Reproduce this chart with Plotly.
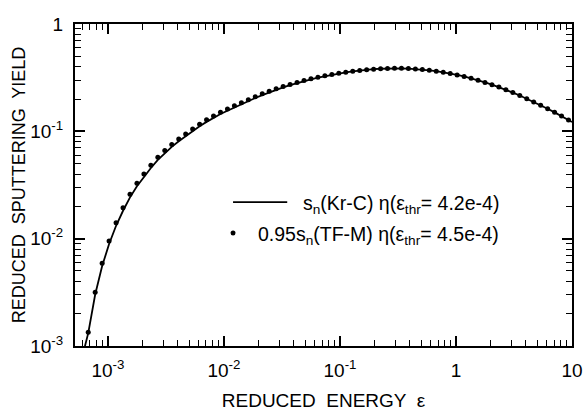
import plotly.graph_objects as go

# ---- data ----
eps_dots = [6.761e-4, 7.762e-4, 8.913e-4, 1.023e-3, 1.175e-3, 1.349e-3, 1.549e-3, 1.778e-3,
            2.042e-3, 2.344e-3, 2.692e-3, 3.090e-3, 3.548e-3, 4.074e-3, 4.677e-3, 5.370e-3,
            6.166e-3, 7.079e-3, 8.128e-3, 9.333e-3, 0.01072, 0.01230, 0.01413, 0.01622,
            0.01862, 0.02138, 0.02455, 0.02818, 0.03236, 0.03715, 0.04266, 0.04898,
            0.05623, 0.06457, 0.07413, 0.08511, 0.09772, 0.1122, 0.1288, 0.1479,
            0.1698, 0.1950, 0.2239, 0.2570, 0.2951, 0.3388, 0.3890, 0.4467,
            0.5129, 0.5888, 0.6761, 0.7762, 0.8913, 1.023, 1.175, 1.349,
            1.549, 1.778, 2.042, 2.344, 2.692, 3.090, 3.548, 4.074,
            4.677, 5.370, 6.166, 7.079, 8.128, 9.333]

yield_dots = [1.343e-3, 3.162e-3, 5.902e-3, 9.528e-3, 0.01409, 0.01945, 0.02594, 0.03281,
              0.04009, 0.04831, 0.05741, 0.06637, 0.07551, 0.08492, 0.09462, 0.1054,
              0.1167, 0.1279, 0.1393, 0.1507, 0.1614, 0.1730, 0.1845, 0.1968,
              0.2099, 0.2234, 0.2366, 0.2489, 0.2612, 0.2735, 0.2858, 0.2972,
              0.3083, 0.3188, 0.3289, 0.3381, 0.3471, 0.3552, 0.3622, 0.3690,
              0.3741, 0.3793, 0.3828, 0.3855, 0.3864, 0.3864, 0.3846, 0.3811,
              0.3758, 0.3698, 0.3631, 0.3548, 0.3459, 0.3350, 0.3243, 0.3119,
              0.2992, 0.2858, 0.2723, 0.2582, 0.2438, 0.2296, 0.2158, 0.2016,
              0.1879, 0.1750, 0.1622, 0.1503, 0.1387, 0.1276]

eps_line = [6.310e-4] + eps_dots + [10.0]
yield_line = [0.98e-3, 1.318e-3, 3.020e-3, 5.559e-3, 8.913e-3, 0.01318, 0.01820, 0.02427, 0.03076,
              0.03767, 0.04550, 0.05420, 0.06281, 0.07161, 0.08072, 0.09016, 0.1005,
              0.1114, 0.1225, 0.1337, 0.1449, 0.1556, 0.1671, 0.1786, 0.1910,
              0.2042, 0.2178, 0.2312, 0.2438, 0.2564, 0.2692, 0.2818, 0.2938,
              0.3055, 0.3162, 0.3266, 0.3365, 0.3459, 0.3544, 0.3622, 0.3690,
              0.3741, 0.3793, 0.3828, 0.3855, 0.3864, 0.3864, 0.3846, 0.3811,
              0.3758, 0.3698, 0.3631, 0.3548, 0.3459, 0.3350, 0.3243, 0.3119,
              0.2992, 0.2858, 0.2723, 0.2582, 0.2438, 0.2296, 0.2158, 0.2016,
              0.1879, 0.1750, 0.1622, 0.1503, 0.1387, 0.1276, 0.1220]

x_tickvals = [1e-3, 1e-2, 1e-1, 1, 10]
x_ticktext = ["10<sup>-3</sup>", "10<sup>-2</sup>", "10<sup>-1</sup>", "1", "10"]
y_tickvals = [1e-3, 1e-2, 1e-1, 1]
y_ticktext = ["10<sup>-3</sup>", "10<sup>-2</sup>", "10<sup>-1</sup>", "1"]

label_line = "s<sub>n</sub>(Kr-C) η(ε<sub>thr</sub>= 4.2e-4)"
label_dots = "0.95s<sub>n</sub>(TF-M) η(ε<sub>thr</sub>= 4.5e-4)"

# ---- figure ----
FONT = "Liberation Sans, Arial, sans-serif"
fig = go.Figure()
fig.add_trace(go.Scatter(x=eps_line, y=yield_line, mode="lines", name=label_line,
                         line=dict(color="black", width=1.8), showlegend=False))
fig.add_trace(go.Scatter(x=eps_dots, y=yield_dots, mode="markers", name=label_dots,
                         marker=dict(color="black", size=5), showlegend=False))

minor_x = [m * 10.0 ** e for e in range(-4, 1) for m in range(2, 10)]
minor_y = [m * 10.0 ** e for e in range(-3, 0) for m in range(2, 10)]

axis_common = dict(type="log", showline=True, linecolor="black", linewidth=2,
                   mirror="allticks", ticks="inside", ticklen=10, tickwidth=1.6,
                   tickcolor="black", showgrid=False, zeroline=False, automargin=False,
                   tickfont=dict(family=FONT, size=19, color="black"),
                   ticklabelstandoff=6)

fig.update_xaxes(**axis_common, range=[-3.284, 1.0], tickmode="array",
                 tickvals=x_tickvals, ticktext=x_ticktext,
                 minor=dict(ticks="inside", ticklen=6, tickwidth=1.4, tickcolor="black",
                            tickmode="array", tickvals=minor_x, showgrid=False),
                 title=dict(text="REDUCED  ENERGY  ε", standoff=14,
                            font=dict(family=FONT, size=19, color="black")))
fig.update_yaxes(**axis_common, range=[-3.0, 0.0], tickmode="array",
                 tickvals=y_tickvals, ticktext=y_ticktext,
                 minor=dict(ticks="inside", ticklen=6, tickwidth=1.4, tickcolor="black",
                            tickmode="array", tickvals=minor_y, showgrid=False),
                 title=dict(text="REDUCED  SPUTTERING  YIELD", standoff=0,
                            font=dict(family=FONT, size=18, color="black")))

# legend drawn as text + sample glyphs
fig.add_annotation(xref="paper", yref="paper", x=0.858, y=0.44, xanchor="right",
                   yanchor="middle", showarrow=False, text=label_line,
                   font=dict(family=FONT, size=19.5, color="black"))
fig.add_annotation(xref="paper", yref="paper", x=0.858, y=0.343, xanchor="right",
                   yanchor="middle", showarrow=False, text=label_dots,
                   font=dict(family=FONT, size=19.5, color="black"))
fig.add_shape(type="line", xref="paper", yref="paper", x0=0.318, x1=0.427,
              y0=0.447, y1=0.447, line=dict(color="black", width=1.8))
fig.add_shape(type="circle", xref="paper", yref="paper", x0=0.318 - 0.005, x1=0.318 + 0.005,
              y0=0.351 - 0.0078, y1=0.351 + 0.0078, fillcolor="black", line=dict(width=0))

fig.update_layout(width=584, height=415, margin=dict(l=75, r=12, t=24, b=69),
                  plot_bgcolor="white", paper_bgcolor="white",
                  font=dict(family=FONT, color="black"))

fig.write_html("out.html")
